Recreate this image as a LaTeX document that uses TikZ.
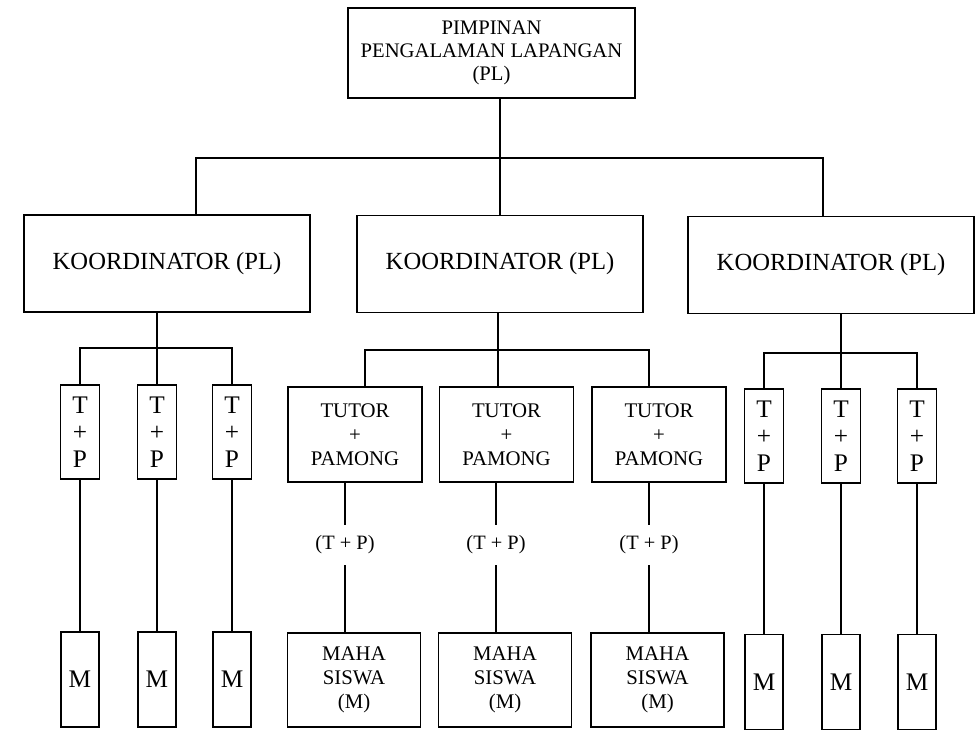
\documentclass[tikz,border=0pt]{standalone}
\usepackage{fontspec}
\setmainfont{Liberation Serif}
\usepackage{tikz}
\tikzset{
  box/.style   ={draw, line width=1.1pt, align=center, inner sep=0pt},
  pimpin/.style={box, minimum width=7.175cm, minimum height=2.25cm,
                 font=\fontsize{14.7}{16.5}\selectfont},
  koord/.style ={box, minimum width=7.15cm, minimum height=2.425cm,
                 font=\fontsize{17.5}{21}\selectfont},
  tpbox/.style ={box, minimum width=0.975cm, minimum height=2.35cm,
                 font=\fontsize{18}{19.2}\selectfont},
  mbox/.style  ={box, minimum width=0.95cm, minimum height=2.375cm,
                 font=\fontsize{18}{20}\selectfont},
  tutor/.style ={box, minimum width=3.35cm, minimum height=2.375cm,
                 font=\fontsize{14.8}{17}\selectfont},
  mhs/.style   ={box, minimum width=3.325cm, minimum height=2.35cm,
                 font=\fontsize{14.8}{17}\selectfont},
  tplab/.style ={inner sep=0pt, minimum height=1cm, font=\fontsize{14.5}{17}\selectfont},
  conn/.style  ={line width=1.1pt},
}

\begin{document}
\begin{tikzpicture}[x=0.025cm, y=-0.025cm]
        \useasboundingbox (0,0) rectangle (978,730);
        \node[pimpin] (top) at (491.5,53){PIMPINAN\\PENGALAMAN LAPANGAN\\(PL)};
        \node[koord] (k1) at (167,263.5){KOORDINATOR (PL)};
        \node[koord] (k2) at (500,264){KOORDINATOR (PL)};
        \node[koord] (k3) at (831,265){KOORDINATOR (PL)};
        \coordinate (bus) at (500,158);
        \draw[conn] (bus |- top.south) -- (bus);
        \draw[conn] (bus) -| ([xshift=0.725cm]k1.north);
        \draw[conn] (bus) -- (k2.north);
        \draw[conn] (bus) -| ([xshift=-0.2cm]k3.north);

        \node[tpbox] (a1) at (80,432){T\\+\\P};
        \node[tpbox] (a2) at (157,432){T\\+\\P};
        \node[tpbox] (a3) at (232,432){T\\+\\P};
        \node[mbox] (m1) at (80,679.5){M};
        \node[mbox] (m2) at (157,679.5){M};
        \node[mbox] (m3) at (232,679.5){M};
        \coordinate (j1) at (157,348);
        \draw[conn] (k1.south -| j1) -- (j1);
        \draw[conn] (j1) -| (a1.north); \draw[conn] (j1) -- (a2.north); \draw[conn] (j1) -| (a3.north);
        \draw[conn] (a1) -- (m1); \draw[conn] (a2) -- (m2); \draw[conn] (a3) -- (m3);

        \node[tutor] (t1) at (355,434.5){TUTOR\\+\\PAMONG};
        \node[tutor] (t2) at (506.5,434.5){TUTOR\\+\\PAMONG};
        \node[tutor] (t3) at (659,434.5){TUTOR\\+\\PAMONG};
        \node[tplab] (l1) at (345,545){(T + P)};
        \node[tplab] (l2) at (496,545){(T + P)};
        \node[tplab] (l3) at (649,545){(T + P)};
        \node[mhs] (s1) at (354,680){MAHA\\SISWA\\(M)};
        \node[mhs] (s2) at (505,680){MAHA\\SISWA\\(M)};
        \node[mhs] (s3) at (657.5,680){MAHA\\SISWA\\(M)};
        \coordinate (j2) at (498,350);
        \draw[conn] (k2.south -| j2) -- (j2);
        \draw[conn] (j2) -| ([xshift=0.25cm]t1.north);
        \draw[conn] (j2) -- (j2 |- t2.north);
        \draw[conn] (j2) -| ([xshift=-0.25cm]t3.north);
        \draw[conn] (t1.south -| l1) -- (l1); \draw[conn] (l1) -- (l1 |- s1.north);
        \draw[conn] (t2.south -| l2) -- (l2); \draw[conn] (l2) -- (l2 |- s2.north);
        \draw[conn] (t3.south -| l3) -- (l3); \draw[conn] (l3) -- (l3 |- s3.north);

        \node[tpbox] (b1) at (764,436){T\\+\\P};
        \node[tpbox] (b2) at (841,436){T\\+\\P};
        \node[tpbox] (b3) at (917,436){T\\+\\P};
        \node[mbox] (n1) at (764,682){M};
        \node[mbox] (n2) at (841,682){M};
        \node[mbox] (n3) at (917,682){M};
        \coordinate (j3) at (841,353);
        \draw[conn] (k3.south -| j3) -- (j3);
        \draw[conn] (j3) -| (b1.north); \draw[conn] (j3) -- (b2.north); \draw[conn] (j3) -| (b3.north);
        \draw[conn] (b1) -- (n1); \draw[conn] (b2) -- (n2); \draw[conn] (b3) -- (n3);
      \end{tikzpicture}
\end{document}
